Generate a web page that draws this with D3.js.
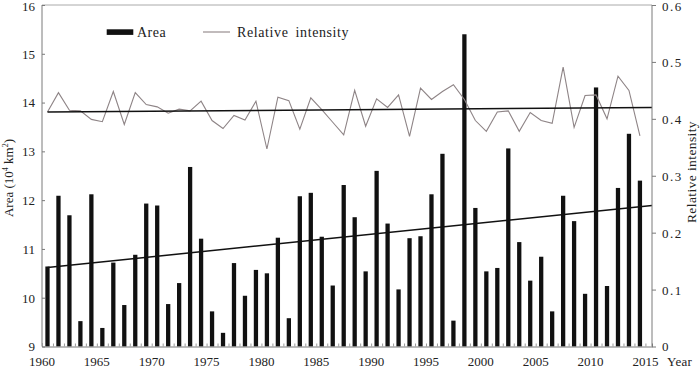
<!DOCTYPE html>
<html><head><meta charset="utf-8">
<script src="https://cdn.jsdelivr.net/npm/d3@7/dist/d3.min.js"></script>
<style>
html,body{margin:0;padding:0;background:#fff;}
svg{display:block;font-family:"Liberation Serif","Times New Roman",serif;}
</style></head>
<body><svg id="c" width="700" height="368"></svg>
<script>
const years = d3.range(1960, 2015);
const area = [10.64,12.09,11.69,9.52,12.12,9.38,10.72,9.85,10.88,11.93,
  11.89,9.87,10.30,12.68,11.21,9.72,9.28,10.71,10.04,10.57,
  10.50,11.23,9.58,12.08,12.15,11.25,10.25,12.31,11.65,10.54,
  12.60,11.52,10.17,11.22,11.26,12.12,12.95,9.53,15.40,11.84,
  10.54,10.61,13.06,11.14,10.35,10.84,9.72,12.09,11.57,10.08,
  14.31,10.24,12.25,13.36,12.40];
const intensity = [0.412,0.446,0.415,0.414,0.399,0.395,0.448,0.390,0.446,0.425,
  0.421,0.410,0.417,0.414,0.431,0.397,0.383,0.406,0.398,0.431,
  0.347,0.438,0.432,0.382,0.437,0.416,0.394,0.372,0.450,0.387,
  0.435,0.420,0.442,0.369,0.454,0.434,0.448,0.460,0.434,0.397,
  0.378,0.412,0.414,0.378,0.411,0.397,0.392,0.491,0.385,0.441,
  0.442,0.400,0.475,0.450,0.370];
const areaTrend = [10.62, 11.89];
const intensityTrend = [0.412, 0.420];
const xTicks = d3.range(1960, 2016, 5);
const leftTicks = [9,10,11,12,13,14,15,16];
const rightTicks = [0,0.1,0.2,0.3,0.4,0.5,0.6];

const svg = d3.select("#c");
const L = 42, R = 652, T = 5, B = 346.5;
const xEnd = 2015.6;
const x = d3.scaleLinear().domain([1960, xEnd]).range([L, R]);
const yL = d3.scaleLinear().domain([9, 16]).range([B, T]);
const yR = d3.scaleLinear().domain([0, 0.6]).range([B, T]);
const bw = (x(1961) - x(1960)) * 0.39;

// bars
svg.append("g").selectAll("rect").data(years).join("rect")
  .attr("x", d => x(d + 0.5) - bw / 2)
  .attr("width", bw)
  .attr("y", (d, i) => yL(area[i]))
  .attr("height", (d, i) => B - yL(area[i]))
  .attr("fill", "#111");

// intensity line
svg.append("path")
  .datum(years)
  .attr("fill", "none").attr("stroke", "#8e8486").attr("stroke-width", 1.1)
  .attr("d", d3.line().x(d => x(d + 0.5)).y((d, i) => yR(intensity[i])));

// trends
svg.append("line").attr("x1", x(1960.5)).attr("x2", x(xEnd))
  .attr("y1", yL(areaTrend[0])).attr("y2", yL(areaTrend[1]))
  .attr("stroke", "#111").attr("stroke-width", 1.5);
svg.append("line").attr("x1", x(1960.5)).attr("x2", x(xEnd))
  .attr("y1", yR(intensityTrend[0])).attr("y2", yR(intensityTrend[1]))
  .attr("stroke", "#111").attr("stroke-width", 1.5);

// frame
const ax = "#7a7a7a";
svg.append("line").attr("x1", L).attr("x2", R).attr("y1", T).attr("y2", T).attr("stroke", "#aaa");
svg.append("line").attr("x1", L).attr("x2", L).attr("y1", T).attr("y2", B).attr("stroke", ax);
svg.append("line").attr("x1", R).attr("x2", R).attr("y1", T).attr("y2", B).attr("stroke", ax);

// bottom axis
const gx = svg.append("g").attr("transform", `translate(0,${B})`)
  .call(d3.axisBottom(x).tickValues(d3.range(1960, 2016)).tickSize(-3).tickFormat(""));
gx.select(".domain").attr("stroke", ax);
gx.selectAll(".tick line").attr("stroke", "#999");
svg.append("g").selectAll("text").data(xTicks).join("text")
  .attr("x", d => x(d)).attr("y", 366).attr("text-anchor", "middle")
  .attr("font-size", 13).attr("fill", "#222").text(d => d);
svg.append("text").attr("x", 667).attr("y", 366).attr("font-size", 13).attr("fill", "#222")
  .attr("letter-spacing", 0.3).text("Year");

// left axis
const gl = svg.append("g").attr("transform", `translate(${L},0)`)
  .call(d3.axisLeft(yL).tickValues(leftTicks).tickSize(-3).tickPadding(7).tickFormat(d3.format("d")));
gl.select(".domain").remove();
gl.selectAll(".tick line").attr("stroke", ax);
gl.selectAll(".tick text").attr("font-size", 13).attr("fill", "#222")
  .attr("font-family", "Liberation Serif, serif")
  .attr("dy", d => d === 16 ? "0.42em" : "0.34em");

// right axis
const gr = svg.append("g").attr("transform", `translate(${R},0)`)
  .call(d3.axisRight(yR).tickValues(rightTicks).tickSize(4).tickPadding(6).tickFormat(d => d === 0 ? "0" : d3.format(".1f")(d)));
gr.select(".domain").remove();
gr.selectAll(".tick line").attr("stroke", ax);
gr.selectAll(".tick text").attr("font-size", 13).attr("fill", "#222")
  .attr("letter-spacing", 1.5).attr("font-family", "Liberation Serif, serif")
  .attr("dy", d => d === 0.6 ? "0.42em" : "0.34em");

// axis titles
const lt = svg.append("text").attr("transform", "translate(13,178) rotate(-90)")
  .attr("text-anchor", "middle").attr("font-size", 13).attr("fill", "#222");
lt.append("tspan").text("Area (10");
lt.append("tspan").attr("font-size", 8).attr("dy", -5).text("4");
lt.append("tspan").attr("dy", 5).text(" km");
lt.append("tspan").attr("font-size", 8).attr("dy", -5).text("2");
lt.append("tspan").attr("dy", 5).text(")");
svg.append("text").attr("transform", "translate(696,172) rotate(-90)")
  .attr("text-anchor", "middle").attr("font-size", 13.5).attr("fill", "#222")
  .attr("letter-spacing", 0.4).text("Relative intensity");

// legend
svg.append("rect").attr("x", 106.7).attr("y", 29.3).attr("width", 26.6).attr("height", 5.6).attr("fill", "#111");
svg.append("text").attr("x", 137).attr("y", 37).attr("font-size", 14).attr("fill", "#222")
  .attr("letter-spacing", 0.5).text("Area");
svg.append("line").attr("x1", 203).attr("x2", 230).attr("y1", 32).attr("y2", 32)
  .attr("stroke", "#8e8486").attr("stroke-width", 1.1);
svg.append("text").attr("x", 237).attr("y", 37).attr("font-size", 14).attr("fill", "#222")
  .attr("letter-spacing", 0.6).attr("word-spacing", 3).text("Relative intensity");
</script></body></html>
